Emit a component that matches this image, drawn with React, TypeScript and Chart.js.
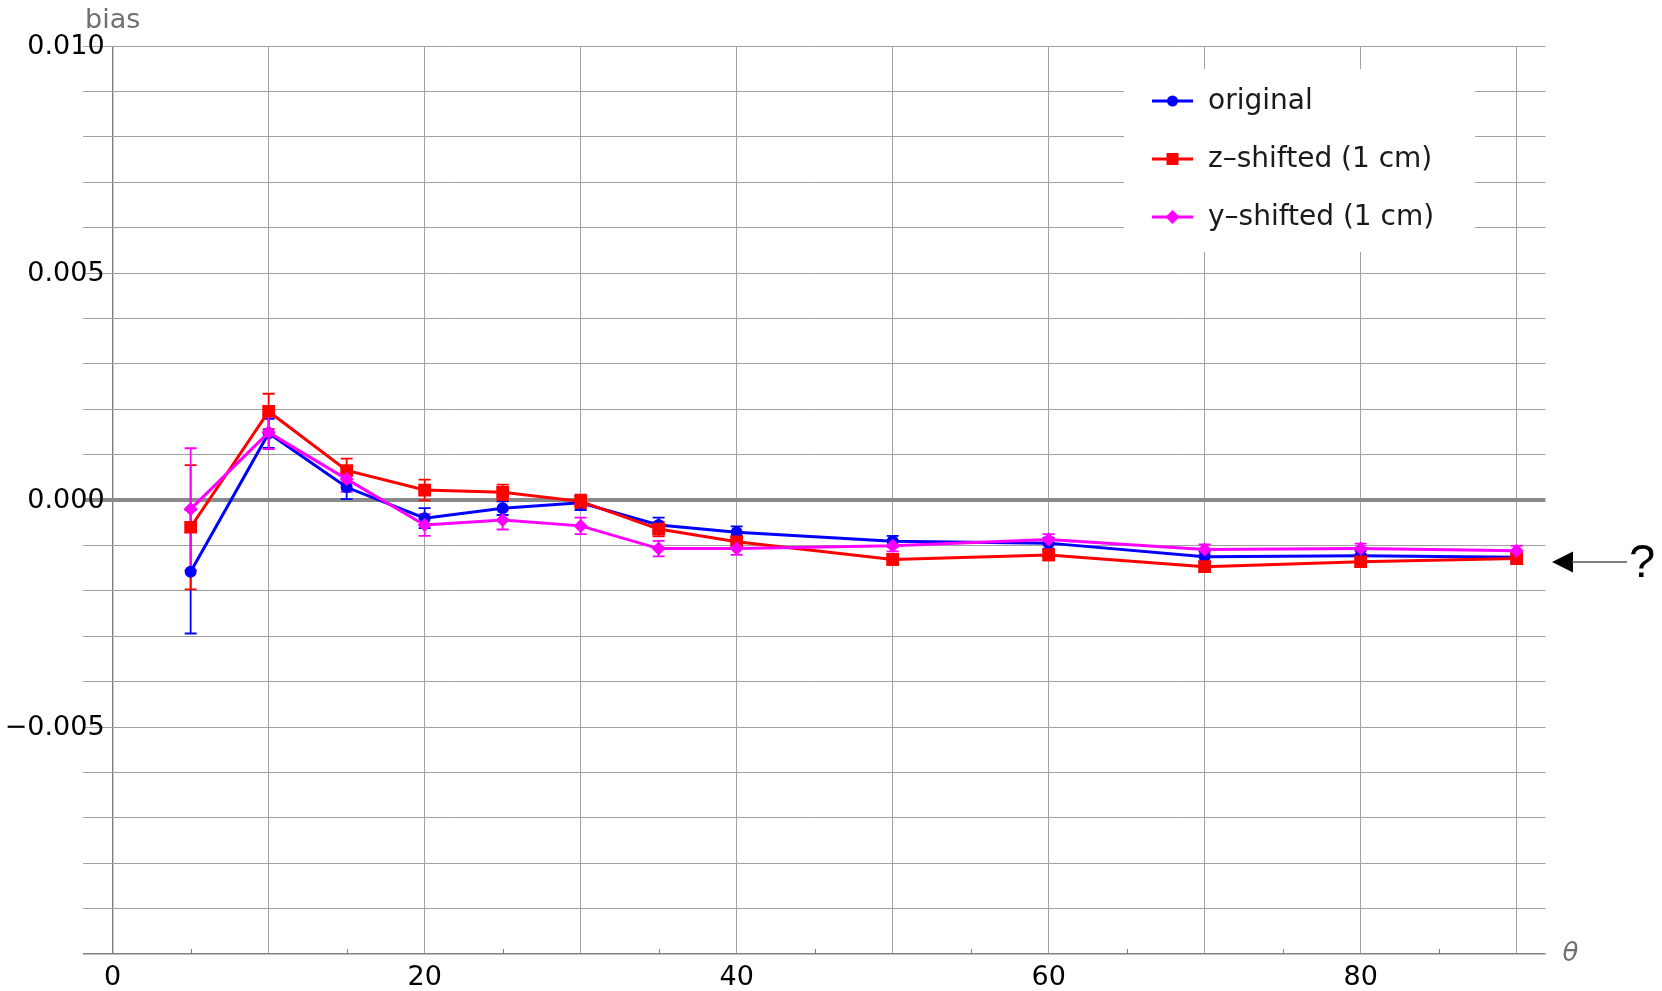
import { useEffect, useRef } from "react";
import { Chart, registerables } from "chart.js";

Chart.register(...registerables);

// Polar angle of the track (degrees)
const theta = [5, 10, 15, 20, 25, 30, 35, 40, 50, 60, 70, 80, 90];

// Bias per geometry, with its statistical uncertainty
const originalBias = [-0.00158, 0.00147, 0.00028, -0.0004, -0.00018, -0.00006, -0.00055, -0.00071, -0.00091, -0.00095, -0.00125, -0.00123, -0.00126];
const originalErr = [0.00136, 0.00032, 0.00026, 0.00022, 0.00015, 0.00016, 0.00016, 0.00013, 0.00012, 0.00012, 0.00011, 0.00011, 0.00011];

const zShiftedBias = [-0.0006, 0.00195, 0.00065, 0.00022, 0.00017, -0.00003, -0.00064, -0.00092, -0.00131, -0.00121, -0.00147, -0.00136, -0.00129];
const zShiftedErr = [0.00137, 0.00039, 0.00026, 0.00023, 0.00017, 0.00015, 0.00016, 0.00013, 0.00012, 0.00012, 0.00011, 0.00011, 0.00011];

const yShiftedBias = [-0.0002, 0.00149, 0.00046, -0.00055, -0.00044, -0.00057, -0.00107, -0.00107, -0.00101, -0.00087, -0.00109, -0.00107, -0.00112];
const yShiftedErr = [0.00134, 0.00037, 0.00028, 0.00024, 0.00021, 0.00018, 0.00017, 0.00014, 0.00012, 0.00012, 0.00011, 0.00011, 0.00011];

const seriesNames = ["original", "z\u2013shifted (1 cm)", "y\u2013shifted (1 cm)"];
const seriesColors = ["#0000ff", "#ff0000", "#ff00ff"];

// Axis labelling
const yLabelValues = [0.01, 0.005, 0, -0.005];
const xLabelValues = [0, 20, 40, 60, 80];
const xMinorTicks = [5, 15, 25, 35, 45, 55, 65, 75, 85];
const yAxisTitle = "bias";
const xAxisTitle = "\u03b8";
const annotationText = "?";

const FONT = "'DejaVu Sans', sans-serif";

const formatBias = (v: number) => {
  const s = Math.abs(v).toFixed(3);
  return v < -1e-9 ? "\u2212" + s : s;
};

const errorBarsPlugin = {
  id: "errorBars",
  beforeDatasetsDraw(chart: any) {
    const { ctx, chartArea } = chart;
    const xs = chart.scales.x;
    const ys = chart.scales.y;
    ctx.save();
    ctx.beginPath();
    ctx.rect(chartArea.left, chartArea.top, chartArea.right - chartArea.left, chartArea.bottom - chartArea.top);
    ctx.clip();
    chart.data.datasets.forEach((ds: any) => {
      ctx.strokeStyle = ds.borderColor;
      ctx.lineWidth = 1.8;
      ds.data.forEach((p: any, j: number) => {
        const e = ds.errors[j];
        const x = xs.getPixelForValue(p.x);
        const yTop = ys.getPixelForValue(p.y + e);
        const yBot = ys.getPixelForValue(p.y - e);
        ctx.beginPath();
        ctx.moveTo(x, yTop);
        ctx.lineTo(x, yBot);
        ctx.moveTo(x - 6, yTop);
        ctx.lineTo(x + 6, yTop);
        ctx.moveTo(x - 6, yBot);
        ctx.lineTo(x + 6, yBot);
        ctx.stroke();
      });
    });
    ctx.restore();
  },
};

function drawMarker(ctx: CanvasRenderingContext2D, style: string, x: number, y: number, size: number) {
  ctx.beginPath();
  if (style === "circle") {
    ctx.arc(x, y, size, 0, Math.PI * 2);
  } else if (style === "rect") {
    ctx.rect(x - size, y - size, size * 2, size * 2);
  } else {
    ctx.moveTo(x, y - size);
    ctx.lineTo(x + size, y);
    ctx.lineTo(x, y + size);
    ctx.lineTo(x - size, y);
    ctx.closePath();
  }
  ctx.fill();
}

const decorationsPlugin = {
  id: "decorations",
  afterDraw(chart: any) {
    const { ctx, chartArea } = chart;
    const xs = chart.scales.x;
    const ys = chart.scales.y;
    ctx.save();

    // minor ticks on the bottom axis
    ctx.strokeStyle = "#808080";
    ctx.lineWidth = 1;
    xMinorTicks.forEach((v) => {
      const x = Math.round(xs.getPixelForValue(v)) + 0.5;
      ctx.beginPath();
      ctx.moveTo(x, chartArea.bottom);
      ctx.lineTo(x, chartArea.bottom - 5);
      ctx.stroke();
    });

    // vertical tick labels, right-aligned just left of the θ = 0 axis
    const axisX = xs.getPixelForValue(0);
    ctx.fillStyle = "#000000";
    ctx.font = `27px ${FONT}`;
    ctx.textAlign = "right";
    ctx.textBaseline = "middle";
    yLabelValues.forEach((v) => {
      ctx.fillText(formatBias(v), axisX - 8, ys.getPixelForValue(v) + 1);
    });

    // axis titles
    ctx.fillStyle = "#707070";
    ctx.font = `27px ${FONT}`;
    ctx.textAlign = "left";
    ctx.textBaseline = "alphabetic";
    ctx.fillText(yAxisTitle, 85, 28);
    ctx.font = `italic 26px ${FONT}`;
    ctx.textBaseline = "middle";
    ctx.fillText(xAxisTitle, chartArea.right + 17, chartArea.bottom);

    // legend
    const boxL = 1124, boxR = 1475, boxT = 69, boxB = 252;
    ctx.fillStyle = "#ffffff";
    ctx.fillRect(boxL, boxT, boxR - boxL, boxB - boxT);
    const rowY = [101, 159, 217];
    chart.data.datasets.forEach((ds: any, i: number) => {
      const y = rowY[i];
      ctx.strokeStyle = ds.borderColor;
      ctx.lineWidth = 3;
      ctx.beginPath();
      ctx.moveTo(1152, y);
      ctx.lineTo(1193, y);
      ctx.stroke();
      ctx.fillStyle = ds.borderColor;
      const ms = ds.pointStyle === "circle" ? 5.5 : ds.pointStyle === "rect" ? 6 : 7;
      drawMarker(ctx, ds.pointStyle, 1172.5, y, ms);
      ctx.fillStyle = "#1a1a1a";
      ctx.font = `28px ${FONT}`;
      ctx.textAlign = "left";
      ctx.textBaseline = "middle";
      ctx.fillText(ds.label, 1208, y + 1);
    });

    // arrow pointing at the large-angle plateau
    const ay = 562;
    ctx.fillStyle = "#000000";
    ctx.beginPath();
    ctx.moveTo(1552, ay);
    ctx.lineTo(1573, ay - 10.5);
    ctx.lineTo(1573, ay + 10.5);
    ctx.closePath();
    ctx.fill();
    ctx.strokeStyle = "#555555";
    ctx.lineWidth = 1.5;
    ctx.beginPath();
    ctx.moveTo(1572, ay);
    ctx.lineTo(1627, ay);
    ctx.stroke();
    ctx.fillStyle = "#000000";
    ctx.font = "47px 'Liberation Sans', sans-serif";
    ctx.textAlign = "left";
    ctx.textBaseline = "alphabetic";
    ctx.fillText(annotationText, 1629, 577);

    ctx.restore();
  },
};

export default function App() {
  const canvasRef = useRef<HTMLCanvasElement | null>(null);

  useEffect(() => {
    const canvas = canvasRef.current;
    if (!canvas) return;

    const series = [
      { values: originalBias, errors: originalErr, style: "circle", radius: 6, order: 3 },
      { values: zShiftedBias, errors: zShiftedErr, style: "rect", radius: 9, order: 2 },
      { values: yShiftedBias, errors: yShiftedErr, style: "rectRot", radius: 7, order: 1 },
    ];

    const chart = new Chart(canvas, {
      type: "line",
      data: {
        datasets: series.map((s, i) => ({
          label: seriesNames[i],
          data: theta.map((t, j) => ({ x: t, y: s.values[j] })),
          errors: s.errors,
          borderColor: seriesColors[i],
          backgroundColor: seriesColors[i],
          borderWidth: 3,
          pointStyle: s.style,
          pointRadius: s.radius,
          pointHoverRadius: s.radius,
          pointBorderWidth: 0,
          tension: 0,
          order: s.order,
        })) as any,
      },
      options: {
        responsive: false,
        animation: false,
        devicePixelRatio: 1,
        layout: { padding: { top: 46, right: 116.5, left: 0, bottom: 0 } },
        plugins: { legend: { display: false }, tooltip: { enabled: false } },
        scales: {
          x: {
            type: "linear",
            min: -1.9,
            max: 91.85,
            border: { display: false },
            grid: {
              drawTicks: false,
              color: (c: any) => (c.tick && c.tick.value === 0 ? "#7d7d7d" : "#a0a0a0"),
              lineWidth: (c: any) => (c.tick && c.tick.value === 0 ? 1.4 : 1),
            },
            ticks: {
              stepSize: 10,
              includeBounds: false,
              autoSkip: false,
              maxRotation: 0,
              padding: 8,
              color: "#000000",
              font: { family: FONT, size: 27 },
              callback: (v: any) => (xLabelValues.includes(Math.round(Number(v))) ? String(Math.round(Number(v))) : ""),
            },
            afterFit: (scale: any) => {
              scale.height = 37;
            },
          },
          y: {
            type: "linear",
            min: -0.01,
            max: 0.01,
            border: { display: false },
            grid: {
              drawTicks: false,
              color: (c: any) => {
                const v = c.tick ? c.tick.value : 1;
                if (Math.abs(v) < 1e-9) return "#8a8a8a";
                if (Math.abs(v + 0.01) < 1e-9) return "#808080";
                return "#a0a0a0";
              },
              lineWidth: (c: any) => {
                const v = c.tick ? c.tick.value : 1;
                if (Math.abs(v) < 1e-9) return 4;
                if (Math.abs(v + 0.01) < 1e-9) return 1.4;
                return 1;
              },
            },
            ticks: {
              stepSize: 0.001,
              includeBounds: false,
              autoSkip: false,
              callback: () => "",
            },
            afterFit: (scale: any) => {
              scale.width = 83;
            },
          },
        },
      } as any,
      plugins: [errorBarsPlugin, decorationsPlugin],
    });

    return () => chart.destroy();
  }, []);

  return (
    <div style={{ position: "fixed", left: 0, top: 0, width: 1662, height: 991, background: "#ffffff" }}>
      <canvas ref={canvasRef} width={1662} height={991} style={{ display: "block" }} />
    </div>
  );
}
